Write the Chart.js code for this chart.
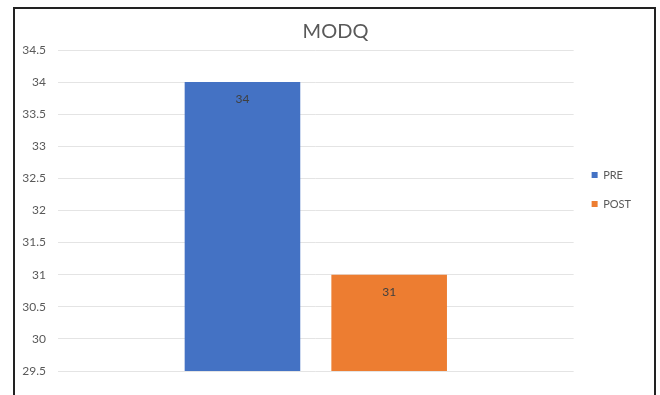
<!DOCTYPE html>
<html>
<head>
<meta charset="utf-8">
<title>MODQ</title>
<script src="https://cdn.jsdelivr.net/npm/chart.js@4"></script>
<style>
  html, body { margin: 0; padding: 0; background: #fff; }
  #wrap  { position: relative; width: 660px; height: 395px; overflow: hidden; }
  #frame { position: absolute; left: 13px; top: 7px; width: 643px; height: 420px;
           border: 2px solid #222; box-sizing: border-box; }
  #chart { position: absolute; left: 0; top: 0; }
</style>
</head>
<body>
<div id="wrap">
  <div id="frame"></div>
  <canvas id="chart" width="660" height="395"></canvas>
</div>
<script>
// MODQ: PRE vs POST, single clustered group

const chartTitle  = "MODQ";
const categories  = [""];
const seriesNames = ["PRE", "POST"];
const preValues   = [34];
const postValues  = [31];
const yMin  = 29.5;
const yMax  = 34.5;
const yStep = 0.5;

const TEXT_GREY = "#595959";
const FONT      = "Lato, 'Open Sans', sans-serif";

// value labels just inside the top of each bar
const barLabels = {
  id: "barLabels",
  afterLayout(chart) {
    // title sits centred on the framed box, a little right of canvas centre
    chart.titleBlock.left  += 8;
    chart.titleBlock.right += 8;
  },
  afterDatasetsDraw(chart) {
    const ctx = chart.ctx;
    ctx.save();
    ctx.font = "12px " + FONT;
    ctx.fillStyle = "#404040";
    ctx.textAlign = "center";
    ctx.textBaseline = "middle";
    chart.data.datasets.forEach((ds, i) => {
      chart.getDatasetMeta(i).data.forEach((bar, j) => {
        ctx.fillText(String(ds.data[j]), bar.x, bar.y + 17);
      });
    });
    ctx.restore();
  },
};

new Chart(document.getElementById("chart"), {
  type: "bar",
  data: {
    labels: categories,
    datasets: [
      { label: seriesNames[0], data: preValues,  backgroundColor: "#4472C4" },
      { label: seriesNames[1], data: postValues, backgroundColor: "#ED7D31" },
    ],
  },
  options: {
    responsive: false,
    animation: false,
    events: [],
    categoryPercentage: 0.569,
    barPercentage: 0.788,
    layout: { padding: { top: 8, bottom: 24, left: 14, right: 19 } },
    plugins: {
      title: {
        display: true,
        text: chartTitle,
        color: TEXT_GREY,
        font: { family: FONT, size: 20, weight: "normal" },
        padding: { top: 12, bottom: 6 },
      },
      legend: {
        position: "right",
        labels: {
          boxWidth: 6,
          boxHeight: 6,
          padding: 18,
          color: TEXT_GREY,
          font: { family: FONT, size: 11, lineHeight: 0.75 },
        },
      },
      tooltip: { enabled: false },
    },
    scales: {
      x: { display: false },
      y: {
        min: yMin,
        max: yMax,
        afterFit: (s) => { s.width = 44; },
        ticks: {
          stepSize: yStep,
          padding: 12,
          color: TEXT_GREY,
          font: { family: FONT, size: 12 },
          callback: (v) => String(v),
        },
        grid: { color: "#e4e4e4", drawTicks: false },
        border: { display: false },
      },
    },
  },
  plugins: [barLabels],
});
</script>
</body>
</html>
